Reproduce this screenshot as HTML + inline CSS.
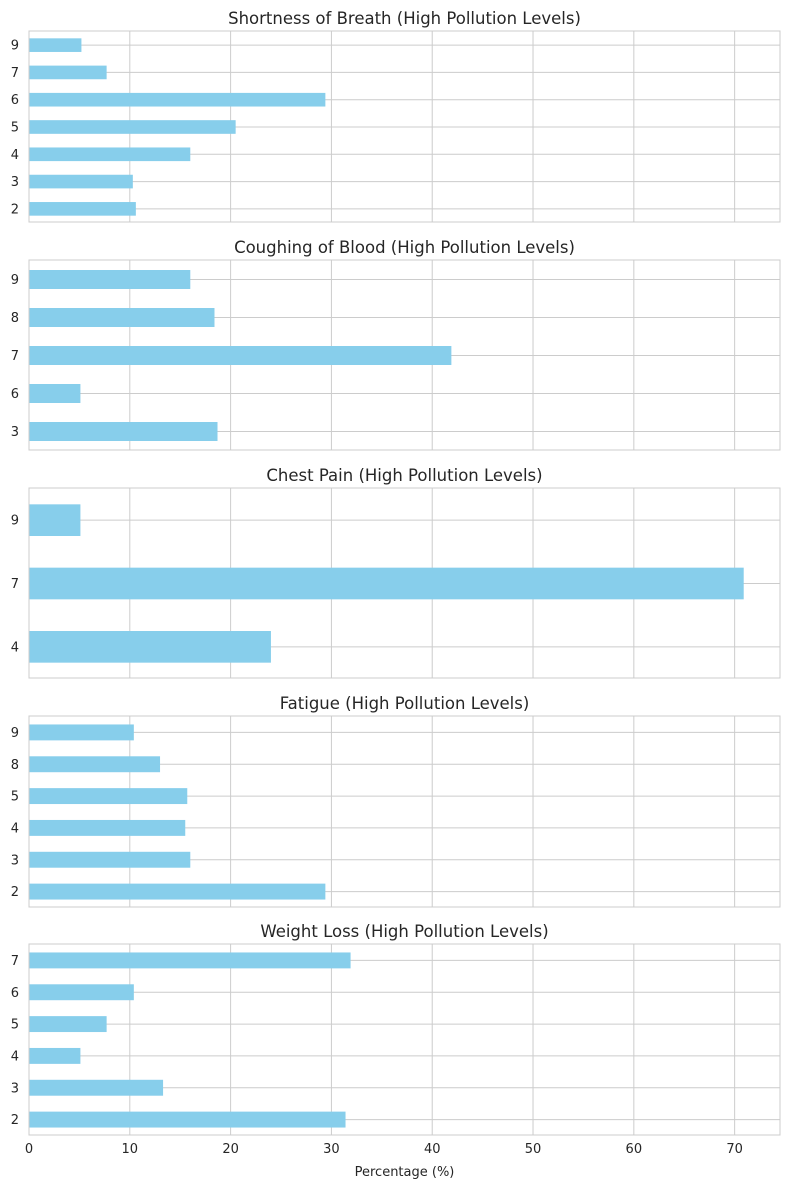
<!DOCTYPE html>
<html><head><meta charset="utf-8"><style>
body{margin:0;background:#fff;}
svg{display:block;font-family:"DejaVu Sans","Liberation Sans",sans-serif;}
</style></head><body>
<svg id="chart" width="790" height="1189"></svg>
<script>
const titles = ["Shortness of Breath (High Pollution Levels)","Coughing of Blood (High Pollution Levels)","Chest Pain (High Pollution Levels)","Fatigue (High Pollution Levels)","Weight Loss (High Pollution Levels)"];
const cats1 = ["2","3","4","5","6","7","9"];
const vals1 = [10.6,10.3,16.0,20.5,29.4,7.7,5.2];
const cats2 = ["3","6","7","8","9"];
const vals2 = [18.7,5.1,41.9,18.4,16.0];
const cats3 = ["4","7","9"];
const vals3 = [24.0,70.9,5.1];
const cats4 = ["2","3","4","5","8","9"];
const vals4 = [29.4,16.0,15.5,15.7,13.0,10.4];
const cats5 = ["2","3","4","5","6","7"];
const vals5 = [31.4,13.3,5.1,7.7,10.4,31.9];
const xTicks = [0,10,20,30,40,50,60,70];
const xLabel = "Percentage (%)";

const NS="http://www.w3.org/2000/svg";
const svg=document.getElementById('chart');
const L=29,R=780,xMax=74.5;
const panels=[{t:31,b:222},{t:260,b:450},{t:488,b:678},{t:716,b:907},{t:944,b:1135}];
const cats=[cats1,cats2,cats3,cats4,cats5], vals=[vals1,vals2,vals3,vals4,vals5];
function x(v){return L+(v/xMax)*(R-L);}
function mk(tag,a,p){const e=document.createElementNS(NS,tag);for(const k in a)e.setAttribute(k,a[k]);(p||svg).appendChild(e);return e;}
panels.forEach((p,i)=>{
  const g=mk('g',{});
  
  
  const n=cats[i].length, step=(p.b-p.t)/n;
  const y=k=>p.b-(k+0.5)*step+0.5;
  xTicks.forEach(t=>{const l=mk('line',{x1:x(t),x2:x(t),y1:p.t,y2:p.b,stroke:'#cccccc','stroke-width':1},g);
    });
  cats[i].forEach((c,k)=>{const l=mk('line',{x1:L,x2:R,y1:y(k),y2:y(k),stroke:'#cccccc','stroke-width':1},g);
    });
  cats[i].forEach((c,k)=>{
    const bh=step*0.5;
    const r=mk('rect',{x:x(0),y:y(k)-bh/2,width:x(vals[i][k])-x(0),height:bh,fill:'#87ceeb'},g);
    
    const tx=mk('text',{x:L-10,y:y(k)+4.5,'text-anchor':'end','font-size':13,fill:'#262626'},g);
    tx.textContent=c;
  });
  const fr=mk('rect',{x:L,y:p.t,width:R-L,height:p.b-p.t,fill:'none',stroke:'#cccccc','stroke-width':1},g);
  
  const tt=mk('text',{x:(L+R)/2,y:p.t-7,'text-anchor':'middle','font-size':16.5,fill:'#262626'},g);
  tt.textContent=titles[i];
});
const last=panels[4];
xTicks.forEach(t=>{const tx=mk('text',{x:x(t),y:last.b+18,'text-anchor':'middle','font-size':13,fill:'#262626'});
  tx.textContent=t;});
const xl=mk('text',{x:(L+R)/2,y:last.b+41,'text-anchor':'middle','font-size':13,fill:'#262626'});
xl.textContent=xLabel;
</script>
</body></html>
